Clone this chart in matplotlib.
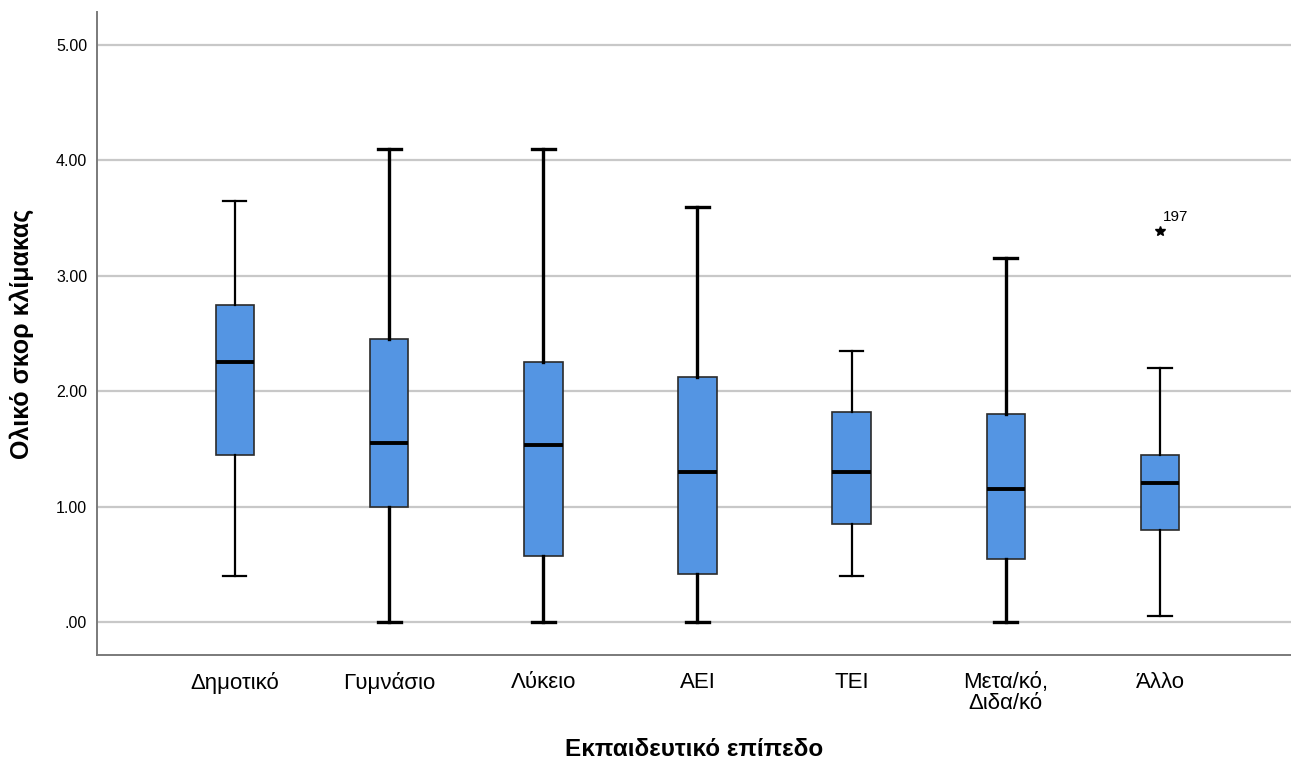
import matplotlib.pyplot as plt
import numpy as np

plt.rcParams['font.family'] = ['Liberation Sans', 'DejaVu Sans']

# education levels and box statistics
labels = ['Δημοτικό', 'Γυμνάσιο', 'Λύκειο', 'ΑΕΙ', 'ΤΕΙ', 'Μετα/κό,\nΔιδα/κό', 'Άλλο']
whislo = [0.40, 0.00, 0.00, 0.00, 0.40, 0.00, 0.05]
q1 = [1.45, 1.00, 0.57, 0.42, 0.85, 0.55, 0.80]
med = [2.25, 1.55, 1.53, 1.30, 1.30, 1.15, 1.20]
q3 = [2.75, 2.45, 2.25, 2.12, 1.82, 1.80, 1.45]
whishi = [3.65, 4.10, 4.10, 3.60, 2.35, 3.15, 2.20]
outliers = [[], [], [], [], [], [], [3.39]]
outlier_ids = [[], [], [], [], [], [], ['197']]

yticks = [0, 1, 2, 3, 4, 5]
ytick_labels = ['.00', '1.00', '2.00', '3.00', '4.00', '5.00']

stats = []
for i in range(len(labels)):
    stats.append(dict(whislo=whislo[i], q1=q1[i], med=med[i], q3=q3[i],
                      whishi=whishi[i], fliers=outliers[i], label=labels[i]))

fig = plt.figure(figsize=(12.91, 7.64), dpi=100)
ax = fig.add_axes([0.0751, 0.1427, 0.9249, 0.8416])

ax.set_axisbelow(True)
ax.yaxis.grid(True, color='#c8c8c8', linewidth=1.6)

pos = np.arange(1, len(labels) + 1)
res = ax.bxp(stats, positions=pos, widths=0.25, capwidths=0.15, patch_artist=True,
             boxprops=dict(facecolor='#5495e3', edgecolor='#2b2b2b', linewidth=1.2),
             medianprops=dict(color='black', linewidth=2.8),
             whiskerprops=dict(color='black', linewidth=1.8),
             capprops=dict(color='black', linewidth=1.8),
             flierprops=dict(marker='*', markersize=7, markerfacecolor='black',
                             markeredgecolor='black', linestyle='none'))

# some whiskers are drawn heavier in the original
thick = [False, True, True, True, False, True, False]
for i, t in enumerate(thick):
    lw = 2.4 if t else 1.6
    for ln in res['whiskers'][2 * i:2 * i + 2] + res['caps'][2 * i:2 * i + 2]:
        ln.set_linewidth(lw)

for i in range(len(labels)):
    for v, name in zip(outliers[i], outlier_ids[i]):
        ax.annotate(name, (pos[i], v), xytext=(2, 7), textcoords='offset points',
                    fontsize=11)

ax.set_xlim(0.105, 7.85)
ax.set_ylim(-0.286, 5.286)
ax.set_yticks(yticks)
ax.set_yticklabels(ytick_labels, fontsize=11.5)
ax.set_xticks(pos)
ax.set_xticklabels(labels, fontsize=16, linespacing=1.05)
ax.tick_params(axis='both', length=0)
ax.tick_params(axis='y', pad=7)
ax.tick_params(axis='x', pad=12)

for s in ['top', 'right']:
    ax.spines[s].set_visible(False)
for s in ['left', 'bottom']:
    ax.spines[s].set_color('#7a7a7a')
    ax.spines[s].set_linewidth(1.4)

ax.set_xlabel('Εκπαιδευτικό επίπεδο', fontsize=17.5, fontweight='bold', labelpad=17)
ax.set_ylabel('Ολικό σκορ κλίμακας', fontsize=18, fontweight='bold', labelpad=16)

fig.savefig('out.png', dpi=100)
